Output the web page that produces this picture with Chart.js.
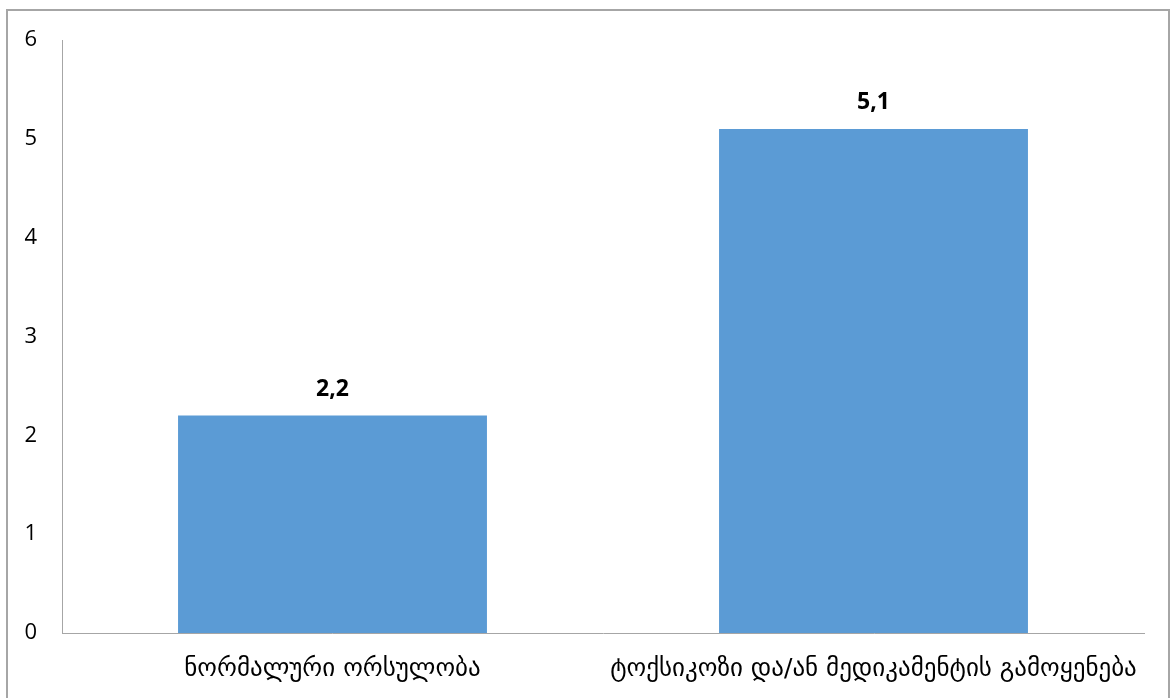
<!DOCTYPE html>
<html>
<head>
<meta charset="utf-8">
<script src="https://cdn.jsdelivr.net/npm/chart.js@4/dist/chart.umd.min.js"></script>
<style>
  html, body { margin: 0; padding: 0; background: #fff; }
  #wrap { position: relative; width: 1174px; height: 698px; overflow: hidden; }
  #frame { position: absolute; left: 6px; top: 9px; width: 1164px; height: 720px; border: 2px solid #a6a6a6; box-sizing: border-box; pointer-events: none; }
  canvas { position: absolute; left: 0; top: 0; }
</style>
</head>
<body>
<div id="wrap">
  <canvas id="c" width="1174" height="698"></canvas>
  <div id="frame"></div>
</div>
<script>
const categories = ["ნორმალური ორსულობა", "ტოქსიკოზი და/ან მედიკამენტის გამოყენება"];
const values = [2.2, 5.1];
const yTicks = [0, 1, 2, 3, 4, 5, 6];

const labelPlugin = {
  id: 'valueLabels',
  afterDatasetsDraw(chart) {
    const ctx = chart.ctx;
    const meta = chart.getDatasetMeta(0);
    ctx.save();
    ctx.font = 'bold 23px "Open Sans", sans-serif';
    ctx.fillStyle = '#000';
    ctx.textAlign = 'center';
    ctx.textBaseline = 'middle';
    meta.data.forEach((bar, i) => {
      const txt = String(values[i]).replace('.', ',');
      ctx.fillText(txt, bar.x, bar.y - 26);
    });
    ctx.restore();
  }
};

new Chart(document.getElementById('c'), {
  type: 'bar',
  data: {
    labels: categories,
    datasets: [{
      data: values,
      backgroundColor: '#5b9bd5',
      borderWidth: 0,
      barPercentage: 0.571,
      categoryPercentage: 1.0
    }]
  },
  options: {
    responsive: false,
    animation: false,
    devicePixelRatio: 1,
    layout: { padding: { left: 0, right: 30, top: 40, bottom: 0 } },
    plugins: { legend: { display: false }, tooltip: { enabled: false } },
    scales: {
      x: {
        grid: { display: false, drawTicks: false },
        border: { display: true, color: '#a6a6a6', width: 1 },
        ticks: { color: '#000', font: { family: '"DejaVu Sans", sans-serif', size: 25 }, padding: 21, maxRotation: 0, autoSkip: false },
        afterFit(scale) { scale.height = 65; }
      },
      y: {
        min: 0, max: 6,
        grid: { display: false, drawTicks: false },
        border: { display: true, color: '#a6a6a6', width: 1 },
        afterBuildTicks(scale) { scale.ticks = yTicks.map(v => ({ value: v })); },
        ticks: { color: '#000', font: { family: '"Open Sans", sans-serif', size: 22 }, padding: 25 },
        afterFit(scale) { scale.width = 62; }
      }
    }
  },
  plugins: [labelPlugin]
});
</script>
</body>
</html>
